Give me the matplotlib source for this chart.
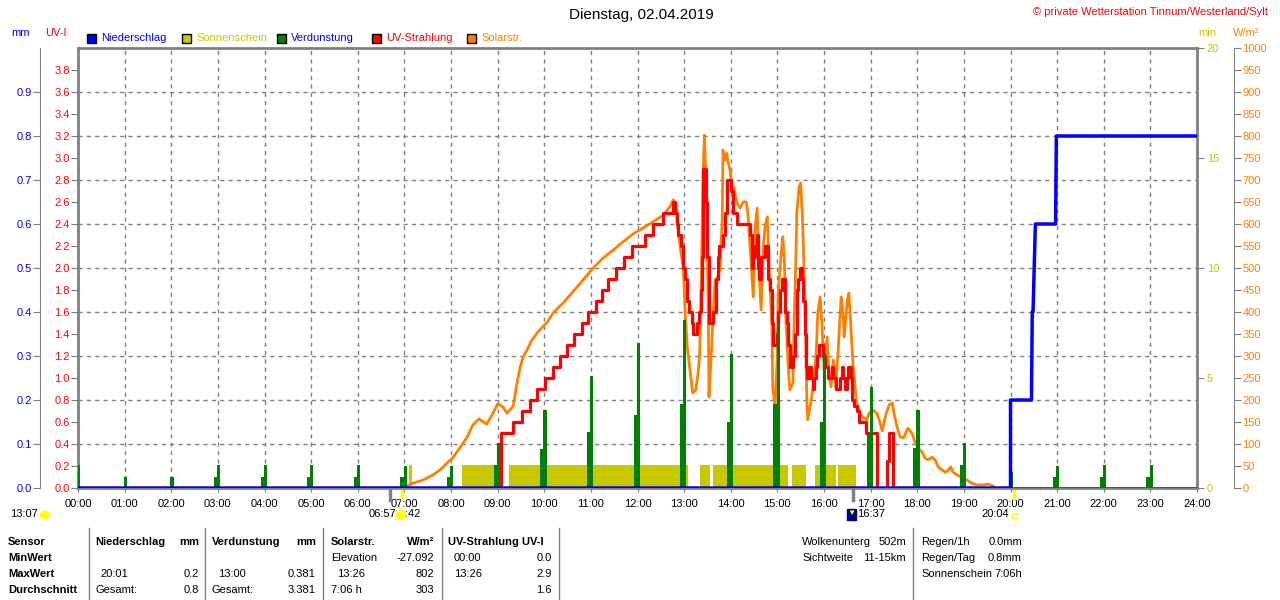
import numpy as np
import matplotlib.pyplot as plt
from matplotlib.patches import Rectangle, Ellipse

plt.rcParams['font.family'] = ['Liberation Sans', 'DejaVu Sans']

W, H = 1280, 600
BLUE = '#0000ff'
OLIVE = '#c8c800'
GREEN = '#008000'
RED = '#ff0000'
ORANGE = '#ff8000'
GRAY = '#808080'

# ---- data (time in minutes of the day) ----
hour_labels = ['%02d:00' % h for h in range(25)]

# Niederschlag, cumulative mm
rain_t = [0, 1200, 1200, 1227, 1228, 1229, 1232, 1258, 1259, 1440]
rain_v = [0, 0, 0.2, 0.2, 0.4, 0.4, 0.6, 0.6, 0.8, 0.8]

# Sonnenschein, minutes per interval
sun_start = [426, 494, 555, 800, 817, 919, 948, 978]
sun_end = [430, 543, 785, 813, 914, 937, 975, 1001]
sun_val = 1.05

# Verdunstung, hourly spikes (mm)
evap_tall = [0.052, 0.025, 0.025, 0.052, 0.052, 0.052, 0.052, 0.05, 0.05, 0.102, 0.177, 0.255,
             0.33, 0.381, 0.305, 0.375, 0.306, 0.23, 0.177, 0.102, 0.036, 0.05, 0.052, 0.052]
evap_pre = [0.0, 0.0, 0.0, 0.025, 0.025, 0.025, 0.025, 0.025, 0.025, 0.052, 0.089, 0.127,
            0.166, 0.19, 0.15, 0.19, 0.15, 0.125, 0.09, 0.052, 0.0, 0.025, 0.025, 0.025]

# UV-Strahlung (UV-I), step values
uv_t = [540, 544, 560, 571, 582, 591, 601, 611, 620, 629, 638, 649, 656, 667, 674, 682, 692, 703, 713, 730, 740, 753, 766, 768,
        771, 772, 776, 779, 781, 784, 786, 790, 791, 797,
        799, 802, 803, 804, 808, 809, 812, 817, 818, 821,
        824, 825, 830, 833, 835, 840, 843, 848, 865, 867,
        869, 871, 874, 875, 876, 879, 884, 888, 891, 893,
        894, 897, 900, 901, 903, 906, 910, 912, 914, 916,
        919, 920, 923, 925, 927, 929, 932, 933, 936, 937,
        938, 941, 943, 946, 947, 950, 951, 954, 959, 961,
        965, 970, 971, 975, 980, 983, 984, 987, 990, 991,
        995, 996, 999, 1002, 1005, 1014, 1028, 1041, 1044, 1049, 1055]
uv_v = [0, 0.5, 0.6, 0.7, 0.8, 0.9, 1.0, 1.1, 1.2, 1.3, 1.4, 1.5, 1.6, 1.7, 1.8, 1.9, 2.0, 2.1, 2.2, 2.3, 2.4, 2.5, 2.6, 2.5,
        2.4, 2.3, 2.2, 2.0, 1.9, 1.7, 1.6, 1.5, 1.4, 1.5,
        1.6, 1.8, 2.1, 2.9, 2.6, 2.1, 1.5, 1.6, 1.6, 1.9,
        2.1, 2.2, 2.3, 2.5, 2.8, 2.7, 2.5, 2.4, 2.3, 2.0,
        2.1, 2.2, 2.3, 2.0, 1.9, 2.1, 2.2, 1.9, 1.8, 1.5,
        1.3, 1.3, 1.4, 1.6, 1.8, 1.9, 1.6, 1.5, 1.3, 1.1,
        1.1, 1.2, 1.4, 1.8, 1.9, 2.0, 1.9, 1.7, 1.4, 1.1,
        1.0, 1.1, 1.0, 0.9, 1.0, 1.1, 1.2, 1.3, 1.2, 1.1,
        1.0, 1.1, 1.0, 0.9, 1.0, 1.1, 1.0, 0.9, 1.0, 1.1,
        1.0, 0.8, 0.75, 0.7, 0.6, 0.5, 0.0, 0.25, 0.5, 0.0, 0.0]

# Solarstrahlung W/m2
solar_t = [415, 423, 431, 444, 457, 466, 475, 483, 492, 501,
           508, 516, 526, 534, 540, 547, 552, 560, 565, 569,
           573, 578, 584, 592, 604, 611, 624, 637, 650, 663,
           676, 689, 701, 714, 727, 740, 753, 762, 766, 770,
           771, 776, 779, 781, 784, 786, 790, 791, 795, 798,
           800, 802, 804, 806, 807, 809, 811, 812, 815, 817,
           820, 822, 826, 829, 830, 833, 835, 836, 839, 842,
           844, 848, 852, 856, 860, 862, 866, 869, 871, 874,
           876, 879, 882, 884, 887, 889, 893, 894, 897, 900,
           901, 905, 907, 909, 911, 914, 916, 920, 921, 924,
           925, 928, 930, 932, 934, 936, 938, 939, 943, 946,
           950, 952, 955, 957, 960, 964, 966, 969, 972, 975,
           978, 982, 984, 986, 990, 992, 995, 997, 1000, 1002,
           1006, 1010, 1015, 1018, 1023, 1028, 1031, 1035, 1040, 1044,
           1048, 1050, 1054, 1058, 1062, 1064, 1068, 1073, 1077, 1081,
           1086, 1090, 1094, 1099, 1103, 1107, 1112, 1116, 1120, 1123,
           1126, 1131, 1138, 1144, 1150, 1157, 1165, 1171, 1177, 1181]
solar_v = [0, 5, 11, 18, 30, 41, 57, 70, 93, 116,
           143, 157, 145, 170, 191, 184, 170, 186, 239, 275,
           298, 314, 336, 355, 377, 397, 420, 446, 473, 500,
           523, 541, 559, 577, 591, 605, 620, 640, 655, 645,
           602, 534, 502, 411, 320, 291, 230, 216, 223, 261,
           307, 457, 684, 802, 761, 609, 420, 207, 307, 382,
           473, 473, 495, 609, 768, 745, 761, 745, 723, 670,
           684, 648, 636, 650, 650, 625, 518, 434, 586, 636,
           511, 405, 548, 593, 616, 518, 366, 230, 184, 307,
           443, 534, 571, 518, 382, 275, 223, 239, 336, 534,
           625, 684, 693, 625, 518, 382, 193, 155, 193, 230,
           307, 398, 434, 382, 268, 343, 268, 230, 291, 230,
           307, 434, 411, 343, 427, 443, 352, 291, 230, 193,
           170, 161, 155, 170, 177, 170, 155, 130, 170, 189,
           193, 170, 139, 116, 114, 120, 136, 125, 105, 91,
           82, 68, 64, 70, 64, 48, 41, 36, 41, 48,
           36, 30, 23, 18, 11, 7, 7, 9, 5, 0]

# markers below the time axis
mark_gray = [402, 997]
mark_sun = [417, 1204]


def ftext(x, y, s, **kw):
    kw.setdefault('va', 'center')
    kw.setdefault('fontsize', 8)
    fig.text(x / W, 1 - y / H, s, **kw)


fig = plt.figure(figsize=(12.8, 6), dpi=100)
L, R, B, T = 78 / W, 1197 / W, 1 - 488 / H, 1 - 48 / H
ax = fig.add_axes([L, B, R - L, T - B])
ax.set_xlim(0, 1440)
ax.set_ylim(0, 4)
ax.set_xticks(np.arange(0, 1441, 60))
ax.set_xticklabels(hour_labels)
ax.tick_params(axis='x', length=3, color=GRAY, pad=5, labelsize=8)
ax.set_yticks(np.arange(0, 3.81, 0.2))
ax.set_yticklabels(['%.1f' % v for v in np.arange(0, 3.81, 0.2)])
ax.tick_params(axis='y', length=5, color=GRAY, labelcolor=RED, labelsize=8, pad=1)
for h in range(1, 24):
    ax.axvline(h * 60, color=GRAY, lw=1, ls=(0, (3, 3)), zorder=0)
for y in np.arange(0.4, 3.7, 0.4):
    ax.axhline(y, color=GRAY, lw=1, ls=(0, (3, 3)), zorder=0)
for s in ax.spines.values():
    s.set_color(GRAY)
    s.set_linewidth(2)


def twin(lim):
    a = ax.twinx()
    a.set_ylim(*lim)
    a.set_xlim(0, 1440)
    for s in a.spines.values():
        s.set_visible(False)
    return a


# Sonnenschein (min axis, right)
ax_sun = twin((0, 20))
ax_sun.set_yticks([0, 5, 10, 15, 20])
ax_sun.tick_params(axis='y', length=5, color=GRAY, labelcolor=OLIVE, labelsize=8, pad=2)
sun_w = np.array(sun_end) - np.array(sun_start)
ax_sun.bar(sun_start, [sun_val] * len(sun_start), width=sun_w, align='edge', color=OLIVE, lw=0)

# Solarstrahlung (W/m2 axis, outer right)
ax_w = twin((0, 1000))
ax_w.spines['right'].set_visible(True)
ax_w.spines['right'].set_position(('outward', 37 * 0.72))
ax_w.spines['right'].set_color(GRAY)
ax_w.set_yticks(np.arange(0, 1001, 50))
ax_w.tick_params(axis='y', length=5, color=GRAY, labelcolor=ORANGE, labelsize=8, pad=1)
ax_w.plot(solar_t, solar_v, color=ORANGE, lw=2)

# UV-Strahlung
ax_uv = twin((0, 4))
ax_uv.set_yticks([])
ax_uv.plot(uv_t, uv_v, color=RED, lw=2.3, drawstyle='steps-post')

# Verdunstung + Niederschlag (mm axis, outer left)
ax_mm = twin((0, 1))
ax_mm.yaxis.tick_left()
ax_mm.spines['left'].set_visible(True)
ax_mm.spines['left'].set_position(('outward', 38 * 0.72))
ax_mm.spines['left'].set_color(GRAY)
ax_mm.set_yticks(np.arange(0, 0.91, 0.1))
ax_mm.set_yticklabels(['%.1f' % v for v in np.arange(0, 0.91, 0.1)])
ax_mm.tick_params(axis='y', length=5, color=GRAY, labelcolor=BLUE, labelsize=8, pad=1)
hours = np.arange(24) * 60
ax_mm.plot([0, 1440], [0, 0], color=GREEN, lw=2)
ax_mm.bar(hours - 3, evap_pre, width=4, color=GREEN, lw=0)
ax_mm.bar(hours + 1, evap_tall, width=4, color=GREEN, lw=0)
ax_mm.plot(rain_t, rain_v, color=BLUE, lw=2.5)

# markers below axis
tr = ax.get_xaxis_transform()
for t in mark_gray:
    ax.plot([t, t], [0, -12 / 440], color=GRAY, lw=2.5, transform=tr, clip_on=False)
for t in mark_sun:
    ax.plot([t, t], [-1 / 440, -10 / 440], color='#ffff00', lw=2.5, transform=tr, clip_on=False)

# header texts
ftext(641, 15, 'Dienstag, 02.04.2019', ha='center', fontsize=11)
ftext(1268, 12, '\u00a9 private Wetterstation Tinnum/Westerland/Sylt', ha='right', color=RED, fontsize=8)
ftext(30, 33, 'mm', ha='right', color=BLUE)
ftext(67, 33, 'UV-I', ha='right', color=RED)
ftext(1198, 33, 'min', ha='left', color=OLIVE)
ftext(1233, 33, 'W/m\u00b2', ha='left', color=ORANGE)

legend = [(87, 'Niederschlag', BLUE, BLUE), (182, 'Sonnenschein', OLIVE, OLIVE),
          (277, 'Verdunstung', GREEN, BLUE), (372, 'UV-Strahlung', RED, RED),
          (467, 'Solarstr.', ORANGE, ORANGE)]
for x, name, fc, tc in legend:
    fig.add_artist(Rectangle((x / W, 1 - 43 / H), 9 / W, 9 / H, transform=fig.transFigure,
                             fc=fc, ec='black', lw=1))
    ftext(x + 14, 38, name, ha='left', color=tc)

# sun / moon info below axis
ftext(10, 514, '13:07', ha='left')
fig.add_artist(Ellipse((45 / W, 1 - 515 / H), 9 / W, 7 / H, transform=fig.transFigure, color='#ffff00'))
ftext(396, 514, '06:57', ha='right')
fig.add_artist(Ellipse((401 / W, 1 - 515 / H), 9 / W, 9 / H, transform=fig.transFigure, color='#ffff00'))
ftext(405, 514, ':42', ha='left')
fig.add_artist(Rectangle((847 / W, 1 - 520 / H), 9 / W, 11 / H, transform=fig.transFigure,
                         fc='#000080', ec='#000080'))
ftext(851.5, 513, '\u25bc', ha='center', color='#ffff00', fontsize=6)
ftext(857, 514, '16:37', ha='left')
ftext(1009, 514, '20:04', ha='right')
fig.add_artist(Rectangle((1012 / W, 1 - 518 / H), 5 / W, 5 / H, transform=fig.transFigure,
                         fc='none', ec='#ffff00', lw=1))

# statistics table
for x in [89, 205, 323, 442, 559, 913]:
    fig.add_artist(plt.Line2D([x / W, x / W], [1 - 528 / H, 0], transform=fig.transFigure,
                              color=GRAY, lw=1))
rows = [542, 558, 574, 590]
for y, s in zip(rows, ['Sensor', 'MinWert', 'MaxWert', 'Durchschnitt']):
    ftext(8, y, s, ha='left', weight='bold')
cells_left = [(95, 542, 'Niederschlag', True), (212, 542, 'Verdunstung', True),
              (331, 542, 'Solarstr.', True), (448, 542, 'UV-Strahlung UV-I', True),
              (331, 558, 'Elevation', False), (454, 558, '00:00', False),
              (100, 574, '20:01', False), (218, 574, '13:00', False),
              (337, 574, '13:26', False), (454, 574, '13:26', False),
              (95, 590, 'Gesamt:', False), (212, 590, 'Gesamt:', False),
              (331, 590, '7:06 h', False),
              (802, 542, 'Wolkenunterg', False), (802, 558, 'Sichtweite', False),
              (921, 542, 'Regen/1h', False), (921, 558, 'Regen/Tag', False),
              (921, 574, 'Sonnenschein', False)]
for x, y, s, b in cells_left:
    ftext(x, y, s, ha='left', weight='bold' if b else 'normal')
cells_right = [(199, 542, 'mm', True), (316, 542, 'mm', True), (434, 542, 'W/m\u00b2', True),
               (434, 558, '-27.092', False), (552, 558, '0.0', False),
               (199, 574, '0.2', False), (316, 574, '0.381', False),
               (434, 574, '802', False), (552, 574, '2.9', False),
               (199, 590, '0.8', False), (316, 590, '3.381', False),
               (434, 590, '303', False), (552, 590, '1.6', False),
               (906, 542, '502m', False), (906, 558, '11-15km', False),
               (1022, 542, '0.0mm', False), (1022, 558, '0.8mm', False),
               (1022, 574, '7:06h', False)]
for x, y, s, b in cells_right:
    ftext(x, y, s, ha='right', weight='bold' if b else 'normal')

fig.savefig('out.png', dpi=100)
